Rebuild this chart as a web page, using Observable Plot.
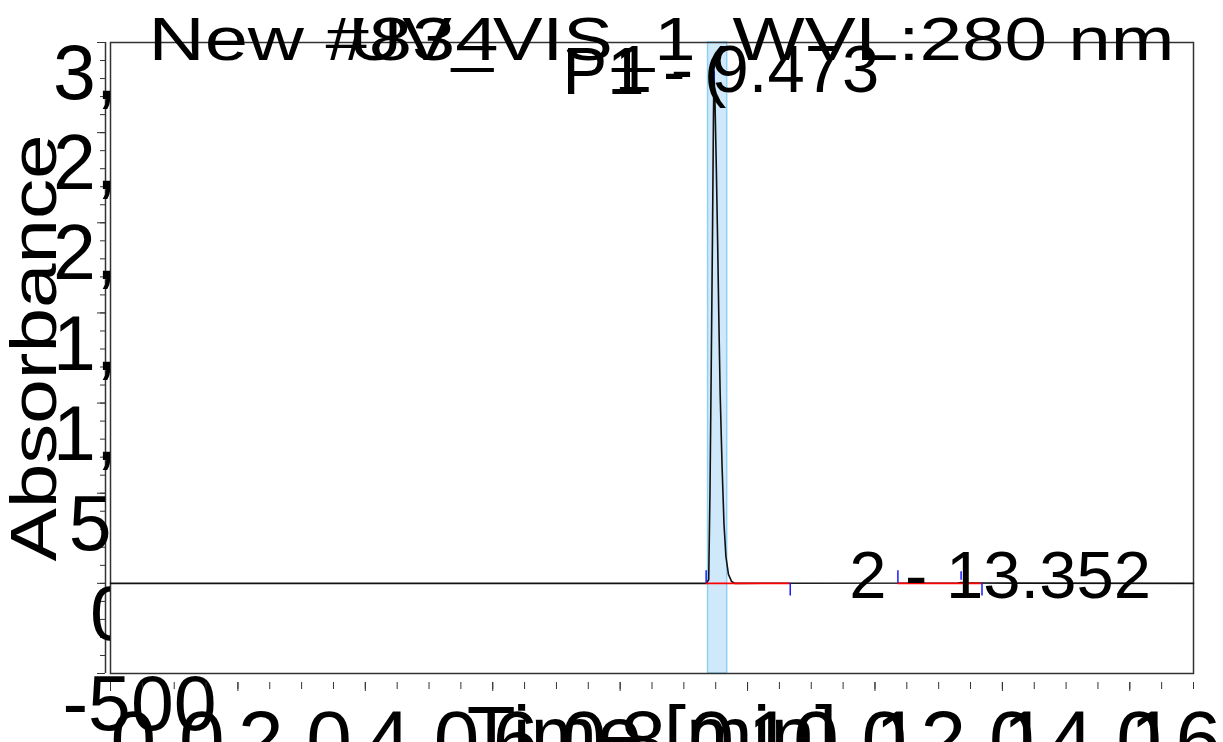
<!DOCTYPE html>
<html><head><meta charset="utf-8">
<script src="https://cdn.jsdelivr.net/npm/d3@7"></script>
<script src="https://cdn.jsdelivr.net/npm/@observablehq/plot@0.6"></script>
<style>html,body{margin:0;padding:0;background:#fff;overflow:hidden}</style>
</head><body><div id="chart"></div>
<script>
// Chromatogram trace (time in min, absorbance in mAU)
const times      = [0, 9.35, 9.39, 9.41, 9.43, 9.45, 9.465, 9.473, 9.49, 9.51, 9.53, 9.55, 9.57, 9.60, 9.63, 9.66, 9.70, 9.75, 9.80, 13.30, 13.352, 13.40, 17];
const absorbance = [0, 0,    20,   500,  1200, 1950, 2600,  2830,  2650, 2300, 1900, 1450, 1050, 650,  330,  150,  50,   10,   0,    2,     5,      2,     0];

// Peaks
const peakRT     = [9.473, 13.352];
const peakApex   = [2830, 5];
const peakStart  = [9.35, 12.36];
const peakEnd    = [10.67, 13.68];
const peakLabels = ["1 - 9.473", "2 - 13.352"];

// Highlighted window
const bandStart = [9.38];
const bandEnd   = [9.68];

// Axes
const yTicks      = [-500, 0, 500, 1000, 1500, 2000, 2500, 3000];
const yTickLabels = ["-500", "0", "500", "1,000", "1,500", "2,000", "2,500", "3,000"];
const xTicks      = [0, 2, 4, 6, 8, 10, 12, 14, 16];
const xTickLabels = ["0.0", "2.0", "4.0", "6.0", "8.0", "10.0", "12.0", "14.0", "16.0"];
const xMinorTicks = d3.range(0, 17.01, 0.5);
const yMinorTicks = d3.range(-500, 3001, 100);

// Texts
const headerLeft   = ["New #834"];
const headerMiddle = ["UV_VIS_1"];
const headerRight  = ["WVL:280 nm"];
const headerLine2  = ["P1 - ("];
const xTitle = ["Time [min]"];
const yTitle = ["Absorbance"];

const trace = times.map((t, i) => ({t, a: absorbance[i]}));
const peaks = peakRT.map((rt, i) => ({rt, apex: peakApex[i], start: peakStart[i], end: peakEnd[i], label: peakLabels[i]}));
const band = bandStart.map((s, i) => ({s, e: bandEnd[i]}));
const yLab = new Map(yTicks.map((d, i) => [d, yTickLabels[i]]));
const xLab = new Map(xTicks.map((d, i) => [d, xTickLabels[i]]));

const font = "'Liberation Sans', Arial, Helvetica, sans-serif";
const hdr = {frameAnchor: "top-left", textAnchor: "start", lineAnchor: "top", fontSize: 62, dy: -27, fill: "black"};

const chart = Plot.plot({
  width: 1223, height: 742,
  marginLeft: 110, marginRight: 30, marginTop: 42, marginBottom: 69,
  style: {fontFamily: font, background: "white", color: "black", overflow: "visible"},
  x: {domain: [0, 17], axis: null},
  y: {domain: [-500, 3000], axis: null},
  marks: [
    Plot.rect(band, {x1: "s", x2: "e", fill: "#cfe9fb", stroke: "#8fd0f6", strokeWidth: 1.5}),
    Plot.frame({stroke: "#333", strokeWidth: 1.5}),
    Plot.line(trace, {x: "t", y: "a", stroke: "#111", strokeWidth: 1.6}),
    Plot.ruleY(peaks, {y: () => 0, x1: "start", x2: "end", stroke: "#ff0000", strokeWidth: 1.6}),
    Plot.ruleX(peaks, {x: "start", y1: () => 0, y2: () => 70, stroke: "#1a1aff", strokeWidth: 1.5}),
    Plot.ruleX(peaks, {x: "end", y1: () => 0, y2: () => -70, stroke: "#1a1aff", strokeWidth: 1.5}),
    Plot.ruleX(peaks.filter(d => d.rt < 10), {x: "rt", y1: d => d.apex - 50, y2: d => d.apex + 10, stroke: "#1a1aff", strokeWidth: 1.5}),
    Plot.ruleX(peaks.filter(d => d.rt > 10), {x: "rt", y1: d => d.apex + 12, y2: d => d.apex + 60, stroke: "#1a1aff", strokeWidth: 1.5}),
    // y axis line and ticks
    Plot.ruleX([0], {dx: -5, stroke: "#333", strokeWidth: 1.5}),
    Plot.axisY(yMinorTicks, {tickSize: 5, dx: -5, tickFormat: () => "", stroke: "#333"}),
    Plot.axisY(yTicks, {tickSize: 8, dx: -5, tickFormat: () => "", stroke: "#333"}),
    Plot.axisY(yTicks, {tickSize: 0, tickPadding: 0, tickFormat: d => yLab.get(d), textAnchor: "start", lineAnchor: "top", fontSize: 77, dx: -56, dy: 2, fill: "black"}),
    // x axis ticks and labels
    Plot.axisX(xMinorTicks, {tickSize: 7, dy: 9, tickFormat: () => "", stroke: "#333"}),
    Plot.axisX(xTicks, {tickSize: 9, dy: 9, tickFormat: () => "", stroke: "#333"}),
    Plot.axisX(xTicks, {tickSize: 0, tickPadding: 0, tickFormat: d => xLab.get(d), textAnchor: "start", lineAnchor: "top", fontSize: 82, dy: 36, fill: "black"}),
    // titles
    Plot.text(xTitle, {text: d => d, frameAnchor: "bottom", lineAnchor: "top", fontSize: 80, dy: 32, fill: "black"}),
    Plot.text(yTitle, {text: d => d, frameAnchor: "left", textAnchor: "middle", rotate: -90, fontSize: 64, dx: -75, dy: -10, fill: "black"}),
    // header
    Plot.text(headerLeft,   {...hdr, text: d => d, dx: 38}),
    Plot.text(headerMiddle, {...hdr, text: d => d, dx: 238}),
    Plot.text(headerRight,  {...hdr, text: d => d, dx: 622}),
    Plot.text(headerLine2,  {text: d => d, frameAnchor: "top-left", textAnchor: "start", lineAnchor: "top", fontSize: 67, dx: 452, dy: 4, fill: "black"}),
    // peak labels
    Plot.text(peaks.filter(d => d.rt < 10), {x: "rt", y: "apex", text: "label", textAnchor: "middle", lineAnchor: "top", fontSize: 67, dx: 33, dy: -29, fill: "black"}),
    Plot.text(peaks.filter(d => d.rt > 10), {x: "rt", y: "apex", text: "label", textAnchor: "middle", lineAnchor: "bottom", fontSize: 67, dx: 39, dy: 16, fill: "black"})
  ]
});
document.getElementById("chart").appendChild(chart);

const svg = d3.select(chart);
// horizontally stretched header / title texts like the original rendering
const stretch = (content, len) => svg.selectAll("text")
  .filter(function() { return this.textContent === content; })
  .attr("textLength", len).attr("lengthAdjust", "spacingAndGlyphs");
stretch(headerLeft[0], 350);
stretch(headerMiddle[0], 347);
stretch(headerRight[0], 442);
stretch(yTitle[0], 427);

// y tick labels: shift each by a quarter of its width (as in the original layout), then clip at the plot edge
svg.selectAll('g[aria-label="y-axis tick label"] text').each(function() {
  const w = this.getComputedTextLength();
  if (w > 0) this.setAttribute("x", 46 - 0.247 * w);
});
const defs = svg.insert("defs", ":first-child");
const cp = defs.append("clipPath").attr("id", "ylabclip").attr("clipPathUnits", "userSpaceOnUse");
cp.append("rect").attr("x", 0).attr("y", 0).attr("width", 110).attr("height", 676);
cp.append("rect").attr("x", 0).attr("y", 676).attr("width", 1223).attr("height", 80);
svg.selectAll('g[aria-label="y-axis tick label"]').each(function() {
  const wrap = document.createElementNS("http://www.w3.org/2000/svg", "g");
  wrap.setAttribute("clip-path", "url(#ylabclip)");
  this.parentNode.insertBefore(wrap, this);
  wrap.appendChild(this);
});
</script></body></html>
